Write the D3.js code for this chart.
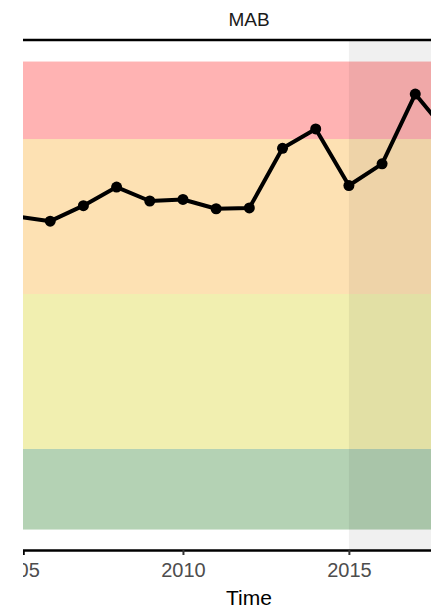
<!DOCTYPE html>
<html>
<head>
<meta charset="utf-8">
<script src="https://cdn.jsdelivr.net/npm/d3@7"></script>
<style>
  body { margin: 0; background: #fff; }
  svg { display: block; }
</style>
</head>
<body>
<svg id="svg"></svg>
<script>
// values (indicator in sd units)
var years  = [2005, 2006, 2007, 2008, 2009, 2010, 2011, 2012, 2013, 2014, 2015, 2016, 2017, 2018];
var values = [0.50, 0.47, 0.57, 0.69, 0.60, 0.61, 0.55, 0.555, 0.94, 1.065, 0.70, 0.84, 1.29, 1.03];

// background bands, bottom to top
var bandLow    = [-1.52, -1, 0, 1];
var bandHigh   = [-1, 0, 1, 1.5];
var bandColors = ["#b4d2b4", "#f1efb0", "#fde1b3", "#ffb3b3"];

var tickYears = [2005, 2010, 2015];
var shadeFrom = 2015;
var panelTitle = "MAB";
var xTitle = "Time";

var width = 431, height = 612;
var left = 23;
var font = "'Liberation Sans', Arial, sans-serif";

var svg = d3.select("#svg").attr("width", width).attr("height", height);

var x = d3.scaleLinear().domain([2005.18, 2018.8]).range([left, 475]);
var y = d3.scaleLinear().domain([-1.652, 1.639]).range([550, 40]);

// bands
svg.selectAll("rect.band")
    .data(bandLow)
    .enter()
    .append("rect")
    .attr("class", "band")
    .attr("x", x.range()[0])
    .attr("width", x.range()[1] - x.range()[0])
    .attr("y", function(d, i) { return y(bandHigh[i]); })
    .attr("height", function(d, i) { return y(d) - y(bandHigh[i]); })
    .attr("fill", function(d, i) { return bandColors[i]; });

// recent period shade
svg.append("rect")
    .attr("x", x(shadeFrom))
    .attr("y", y.range()[1])
    .attr("width", x.range()[1] - x(shadeFrom))
    .attr("height", y.range()[0] - y.range()[1])
    .attr("fill", "#000")
    .attr("fill-opacity", 0.06);

// series
var line = d3.line()
    .x(function(d, i) { return x(years[i]); })
    .y(function(d) { return y(d); });

svg.append("path")
    .datum(values)
    .attr("d", line)
    .attr("fill", "none")
    .attr("stroke", "#000")
    .attr("stroke-width", 4)
    .attr("stroke-linejoin", "round");

svg.selectAll("circle")
    .data(values)
    .enter()
    .append("circle")
    .attr("cx", function(d, i) { return x(years[i]); })
    .attr("cy", function(d) { return y(d); })
    .attr("r", 5.5)
    .attr("fill", "#000");

// panel top border (strip)
svg.append("line")
    .attr("x1", x.range()[0]).attr("x2", x.range()[1])
    .attr("y1", y.range()[1]).attr("y2", y.range()[1])
    .attr("stroke", "#000")
    .attr("stroke-width", 2.5);

// x axis
var xAxis = d3.axisBottom(x)
    .tickValues(tickYears)
    .tickFormat(d3.format("d"))
    .tickSize(5)
    .tickPadding(8);

var gx = svg.append("g")
    .attr("transform", "translate(0," + y.range()[0] + ")")
    .call(xAxis);
gx.select(".domain").attr("stroke", "#000").attr("stroke-width", 2.5);
gx.selectAll(".tick line").attr("stroke", "#333").attr("stroke-width", 2);
gx.selectAll(".tick text")
    .attr("fill", "#4d4d4d")
    .style("font-family", font)
    .style("font-size", "20px");

// the picture is cropped on the left
svg.append("rect")
    .attr("x", 0).attr("y", 0)
    .attr("width", left).attr("height", height)
    .attr("fill", "#fff");

// titles
svg.append("text")
    .attr("x", (x.range()[0] + x.range()[1]) / 2)
    .attr("y", 26)
    .attr("text-anchor", "middle")
    .attr("fill", "#1a1a1a")
    .style("font-family", font)
    .style("font-size", "19px")
    .text(panelTitle);

svg.append("text")
    .attr("x", (x.range()[0] + x.range()[1]) / 2)
    .attr("y", 605)
    .attr("text-anchor", "middle")
    .attr("fill", "#000")
    .style("font-family", font)
    .style("font-size", "21px")
    .text(xTitle);
</script>
</body>
</html>
